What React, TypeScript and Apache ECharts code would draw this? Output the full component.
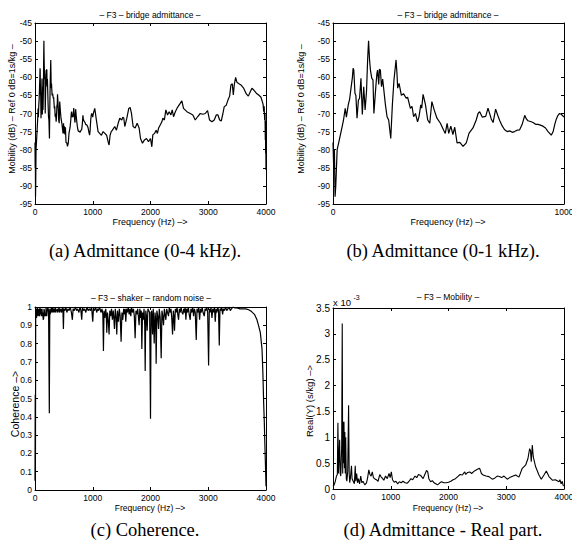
import React, { useEffect, useRef } from "react";
import * as echarts from "echarts";

// Mobility (dB), 0-1000 Hz
const admLow: [number, number][] = [
  [0, -78], [3, -85], [6, -80], [9, -93], [12, -90], [15, -85], [18, -80], [25, -78], [35, -75], [45, -72],
  [53, -68.6], [58, -71], [66, -67.6], [72, -66], [78, -63], [84, -60], [87, -57.5], [90, -58], [95, -64.4],
  [99, -65], [104, -71.3], [110, -66.3], [115, -65.8], [121, -60.3], [127, -70.3], [133, -62.6], [139, -69],
  [145, -64], [150, -55], [154, -49.9], [158, -55], [162, -58], [168, -60.3], [173, -60.7], [177, -70],
  [186, -62.1], [190, -59], [193, -58], [198, -62], [201, -57.8], [205, -58], [210, -62.6], [215, -60.5],
  [227, -67.6], [234, -70.9], [241, -71.8], [250, -76.9], [257, -67.6], [264, -60.7], [270, -57], [273, -55.2],
  [277, -59], [280, -63], [286, -61.7], [290, -63], [296, -65], [305, -64.5], [317, -65.8], [323, -65.5],
  [335, -68.6], [342, -68], [349, -70.9], [357, -70], [366, -72.3], [372, -71], [380, -67.6], [384, -68.5],
  [390, -64.7], [400, -67.5], [410, -71.8], [419, -72.7], [428, -66.7], [438, -69], [450, -71.3], [465, -72.7],
  [479, -74.6], [486, -75.5], [494, -72.7], [501, -75.5], [510, -73.5], [519, -75.8], [527, -73.8], [537, -78.1],
  [549, -78], [563, -79.1], [577, -78.1], [589, -75.4], [606, -74], [620, -71.8], [628, -70], [635, -69.5],
  [646, -71], [661, -70.8], [671, -68.5], [685, -71.5], [693, -72.5], [704, -68.8], [713, -70.5], [722, -72],
  [733, -73.5], [743, -74.5], [754, -75], [765, -74.8], [776, -75.2], [786, -75], [797, -74.6], [808, -74.5],
  [819, -73], [830, -70.5], [837, -71.5], [844, -72], [855, -72.2], [866, -72.5], [877, -73], [887, -73],
  [898, -73.2], [909, -73.5], [920, -74], [931, -75], [945, -76], [953, -75], [960, -73], [967, -71.5],
  [974, -70.5], [981, -70], [988, -70.2], [1000, -71],
];

// Mobility (dB), 1000-4000 Hz
const admHigh: [number, number][] = [
  [1010, -70], [1035, -68.6], [1060, -71.5], [1092, -75], [1120, -75.5], [1150, -76], [1180, -75], [1210, -75.5],
  [1240, -76], [1266, -77.8], [1283, -78.7], [1300, -76], [1320, -75], [1341, -74.6], [1381, -73.6], [1410, -74.6],
  [1440, -72.7], [1468, -71.3], [1503, -71.8], [1520, -71], [1538, -71.3], [1555, -73.6], [1590, -71.3],
  [1624, -68.6], [1647, -68.3], [1670, -69.9], [1699, -73.6], [1734, -74], [1769, -72.7], [1803, -74],
  [1827, -76.9], [1861, -78.2], [1896, -77.3], [1931, -76.9], [1965, -77.8], [2000, -76.9], [2023, -79.2],
  [2040, -75.9], [2070, -75.5], [2098, -74.6], [2120, -75.5], [2139, -74.1], [2168, -73.2], [2197, -72.3],
  [2214, -71.3], [2240, -71.8], [2266, -69], [2295, -70.4], [2324, -69.5], [2353, -70.4], [2376, -69],
  [2399, -70.9], [2428, -69.6], [2468, -68.3], [2514, -67.2], [2543, -66.5], [2572, -68.6], [2630, -69.5],
  [2688, -70], [2734, -70.4], [2775, -71.8], [2815, -70.9], [2861, -70], [2908, -70.2], [2948, -70],
  [2988, -69.2], [3023, -71.8], [3064, -72.3], [3104, -71.8], [3139, -70.4], [3168, -70.4], [3197, -71.8],
  [3225, -72.1], [3254, -70], [3277, -68.1], [3312, -67.7], [3341, -66.3], [3370, -65.2], [3393, -62.1],
  [3416, -61.8], [3434, -64.9], [3451, -62], [3474, -60], [3497, -61.4], [3526, -61.7], [3566, -62.1],
  [3613, -63], [3659, -64.6], [3694, -65.2], [3728, -64], [3757, -63], [3786, -63.5], [3832, -64.4],
  [3873, -64.9], [3913, -65.5], [3936, -66.7], [3950, -67.5], [3960, -69.5], [3968, -68], [3977, -71.8],
  [3983, -70], [3988, -77.3], [3991, -72], [3994, -81], [3997, -78], [4000, -85.6],
];

// Coherence, 0-4000 Hz
const coherence: [number, number][] = [
  [0, 0.05], [4, 0.52], [8, 0.2], [12, 0.95], [20, 0.99], [26, 0.94], [30, 0.96], [40, 1], [46, 0.96], [52, 0.95],
  [62, 0.99], [72, 0.97], [78, 0.95], [85, 1], [92, 0.97], [98, 0.96], [104, 0.99], [110, 0.95], [122, 0.99],
  [128, 0.95], [135, 0.97], [142, 0.93], [150, 0.94], [156, 0.99], [162, 0.98], [168, 0.95], [175, 0.96],
  [185, 0.95], [192, 1], [198, 0.97], [204, 0.95], [210, 0.97], [222, 1], [235, 0.98], [248, 0.42], [256, 0.99],
  [262, 0.96], [270, 0.97], [285, 1], [292, 0.97], [300, 0.98], [310, 1], [318, 0.97], [326, 0.99], [335, 0.97],
  [350, 1], [358, 0.97], [368, 0.98], [385, 0.99], [392, 0.97], [400, 0.975], [418, 1], [426, 0.97], [435, 0.98],
  [450, 0.99], [458, 0.97], [468, 0.97], [482, 1], [492, 0.88], [500, 0.99], [518, 0.98], [535, 1], [552, 0.97],
  [570, 0.99], [590, 0.98], [610, 1], [630, 0.97], [647, 0.93], [660, 0.99], [680, 0.98], [700, 1], [720, 0.98],
  [740, 0.99], [760, 0.97], [780, 1], [795, 0.98], [809, 0.93], [822, 1], [840, 0.98], [860, 0.99], [880, 0.97],
  [900, 1], [920, 0.98], [940, 0.99], [960, 0.98], [980, 1], [1000, 0.92], [1012, 0.99], [1030, 0.98], [1050, 1],
  [1068, 0.97], [1085, 0.99], [1100, 0.98], [1120, 1], [1140, 0.97], [1160, 0.99], [1175, 0.96], [1185, 0.76],
  [1195, 0.98], [1210, 0.94], [1225, 0.99], [1235, 0.95], [1243, 0.86], [1255, 0.97], [1268, 0.93], [1283, 0.85],
  [1295, 0.98], [1310, 0.95], [1325, 0.99], [1340, 0.93], [1355, 0.98], [1365, 0.94], [1376, 0.88], [1390, 0.99],
  [1405, 0.94], [1416, 0.85], [1428, 0.98], [1445, 0.92], [1460, 0.99], [1475, 0.95], [1491, 0.81], [1505, 0.97],
  [1520, 0.93], [1535, 0.99], [1550, 0.96], [1560, 0.99], [1572, 0.92], [1585, 0.99], [1600, 0.97], [1615, 1],
  [1630, 0.96], [1645, 0.99], [1659, 0.95], [1672, 1], [1688, 0.97], [1705, 0.99], [1720, 0.95], [1734, 0.83],
  [1748, 0.98], [1762, 0.96], [1778, 0.99], [1790, 0.95], [1803, 0.9], [1815, 0.99], [1830, 0.94], [1840, 0.98],
  [1850, 0.77], [1862, 0.97], [1875, 0.93], [1888, 0.99], [1900, 0.9], [1908, 0.65], [1918, 0.98], [1930, 0.95],
  [1942, 0.87], [1955, 0.99], [1970, 0.98], [1985, 0.97], [2000, 0.39], [2010, 0.97], [2022, 0.98], [2035, 0.85],
  [2048, 0.99], [2064, 0.8], [2078, 0.97], [2090, 0.93], [2098, 0.69], [2110, 0.98], [2125, 0.95], [2139, 0.88],
  [2152, 0.99], [2168, 0.94], [2185, 0.72], [2198, 0.98], [2212, 0.95], [2225, 0.9], [2240, 0.99], [2252, 0.96],
  [2266, 0.93], [2280, 0.99], [2295, 0.97], [2312, 0.95], [2325, 1], [2340, 0.97], [2355, 0.99], [2368, 0.94],
  [2382, 0.85], [2395, 0.98], [2405, 0.95], [2416, 0.87], [2430, 0.99], [2445, 0.97], [2460, 1], [2472, 0.96],
  [2486, 0.93], [2500, 0.99], [2515, 0.97], [2530, 1], [2545, 0.97], [2561, 0.96], [2575, 0.99], [2590, 0.97],
  [2600, 1], [2613, 0.93], [2625, 0.99], [2640, 0.97], [2655, 1], [2670, 0.96], [2688, 0.93], [2700, 0.99],
  [2715, 0.97], [2730, 1], [2746, 0.95], [2760, 0.99], [2775, 0.97], [2792, 0.82], [2805, 0.99], [2820, 0.97],
  [2835, 1], [2850, 0.93], [2865, 0.99], [2880, 0.97], [2895, 1], [2910, 0.97], [2931, 0.95], [2945, 0.99],
  [2960, 0.98], [2975, 1], [2990, 0.97], [3006, 0.68], [3018, 0.99], [3032, 0.97], [3048, 1], [3064, 0.94],
  [3078, 0.99], [3092, 0.97], [3108, 1], [3121, 0.92], [3135, 0.99], [3150, 0.97], [3165, 1], [3178, 0.98],
  [3191, 0.79], [3203, 0.99], [3218, 0.98], [3232, 1], [3249, 0.96], [3262, 0.99], [3280, 0.98], [3300, 1],
  [3320, 0.98], [3340, 0.99], [3360, 1], [3382, 0.98], [3400, 0.99], [3430, 1], [3460, 0.995], [3500, 0.995],
  [3550, 0.99], [3600, 0.99], [3650, 0.99], [3700, 0.985], [3750, 0.975], [3800, 0.96], [3844, 0.93], [3870, 0.9],
  [3902, 0.86], [3931, 0.77], [3945, 0.65], [3960, 0.47], [3970, 0.38], [3977, 0.29], [3985, 0.2], [3992, 0.12],
  [4000, 0.02],
];

// Real part of mobility, in units of 1e-3 s/kg
const realPartE3: [number, number][] = [
  [0, 0.05], [20, 0.08], [40, 0.15], [60, 0.25], [75, 0.28], [85, 1.28], [95, 0.3], [105, 0.3], [115, 0.95],
  [125, 0.3], [135, 0.25], [150, 0.8], [160, 3.2], [168, 0.3], [175, 1.3], [182, 0.5], [190, 1.3], [198, 0.4],
  [205, 1.1], [212, 0.3], [220, 1.0], [230, 0.2], [240, 0.15], [255, 0.35], [270, 1.62], [280, 0.3], [290, 0.12],
  [300, 0.2], [320, 0.45], [330, 0.2], [350, 0.15], [370, 0.1], [385, 0.45], [395, 0.15], [410, 0.3], [425, 0.12],
  [440, 0.2], [460, 0.1], [480, 0.25], [500, 0.12], [520, 0.15], [550, 0.08], [580, 0.12], [600, 0.22], [620, 0.37],
  [640, 0.28], [660, 0.25], [680, 0.33], [700, 0.22], [720, 0.2], [750, 0.18], [780, 0.15], [810, 0.28],
  [830, 0.24], [860, 0.2], [880, 0.17], [910, 0.25], [940, 0.2], [970, 0.3], [990, 0.22], [1010, 0.33],
  [1030, 0.18], [1060, 0.13], [1090, 0.15], [1120, 0.1], [1150, 0.14], [1180, 0.12], [1210, 0.15], [1250, 0.12],
  [1280, 0.11], [1310, 0.14], [1350, 0.2], [1380, 0.18], [1420, 0.25], [1450, 0.22], [1480, 0.28], [1520, 0.26],
  [1560, 0.2], [1590, 0.28], [1620, 0.36], [1640, 0.33], [1660, 0.2], [1690, 0.14], [1720, 0.16], [1750, 0.12],
  [1780, 0.1], [1810, 0.08], [1850, 0.12], [1880, 0.14], [1920, 0.12], [1960, 0.12], [2000, 0.13], [2040, 0.15],
  [2080, 0.18], [2120, 0.2], [2160, 0.24], [2200, 0.28], [2240, 0.27], [2280, 0.33], [2300, 0.28], [2330, 0.32],
  [2370, 0.33], [2400, 0.3], [2450, 0.35], [2500, 0.38], [2540, 0.4], [2570, 0.3], [2600, 0.27], [2650, 0.25],
  [2700, 0.24], [2757, 0.19], [2800, 0.21], [2844, 0.25], [2880, 0.24], [2920, 0.22], [2960, 0.25], [3017, 0.19],
  [3060, 0.22], [3100, 0.24], [3162, 0.27], [3220, 0.23], [3277, 0.4], [3335, 0.46], [3376, 0.59], [3405, 0.78],
  [3420, 0.74], [3433, 0.53], [3451, 0.85], [3468, 0.62], [3509, 0.43], [3566, 0.27], [3607, 0.19], [3653, 0.27],
  [3694, 0.35], [3740, 0.24], [3798, 0.17], [3850, 0.18], [3913, 0.14], [3930, 0.18], [3950, 0.1], [3970, 0.15],
  [3985, 0.07], [4000, 0.06],
];

const captions = [
  "(a) Admittance (0-4 kHz).",
  "(b) Admittance (0-1 kHz).",
  "(c) Coherence.",
  "(d) Admittance - Real part.",
];
const titles = [
  "– F3 – bridge admittance –",
  "– F3 – bridge admittance –",
  "– F3 – shaker – random noise –",
  "– F3 – Mobility –",
];
const yNames = ["Mobility (dB) – Ref 0 dB=1s/kg –", "Mobility (dB) – Ref 0 dB=1s/kg –", "Coherence –>", "Real(Y) (s/kg) –>"];
const xName = "Frequency (Hz) –>";

const FONT = "Liberation Sans";

function axisPair(
  gridIndex: number,
  kind: "x" | "y",
  min: number,
  max: number,
  interval: number,
  fontSize: number
) {
  const base = {
    type: "value",
    gridIndex,
    min,
    max,
    interval,
    splitLine: { show: false },
    axisLine: { show: true, onZero: false, lineStyle: { color: "#000", width: 1 } },
    axisTick: { show: true, inside: true, length: 3, lineStyle: { color: "#000", width: 1 } },
  };
  const main = {
    ...base,
    position: kind === "x" ? "bottom" : "left",
    axisLabel: {
      show: true,
      color: "#000",
      fontSize,
      fontFamily: FONT,
      margin: 3,
      hideOverlap: false,
      showMinLabel: true,
      showMaxLabel: true,
      formatter: (v: number) => String(+(+v).toFixed(6)),
    },
  };
  const mirror = {
    ...base,
    position: kind === "x" ? "top" : "right",
    axisLabel: { show: false },
  };
  return [main, mirror];
}

export default function App() {
  const ref = useRef<HTMLDivElement>(null);
  useEffect(() => {
    if (!ref.current) return;
    const chart = echarts.init(ref.current, null, { renderer: "svg" });

    const grids = [
      { left: 35, top: 23, width: 231, height: 181 },
      { left: 333, top: 23, width: 231, height: 181 },
      { left: 35, top: 307, width: 231, height: 183 },
      { left: 333, top: 308, width: 231, height: 181 },
    ].map((g) => ({ ...g, show: false, containLabel: false, outerBoundsMode: "none" }));

    const xAxis = [
      ...axisPair(0, "x", 0, 4000, 1000, 8.5),
      ...axisPair(1, "x", 0, 1000, 1000, 8.5),
      ...axisPair(2, "x", 0, 4000, 1000, 8.5),
      ...axisPair(3, "x", 0, 4000, 1000, 8.5),
    ];
    const yAxis = [
      ...axisPair(0, "y", -95, -45, 5, 8.5),
      ...axisPair(1, "y", -95, -45, 5, 8.5),
      ...axisPair(2, "y", 0, 1, 0.1, 8.5),
      ...axisPair(3, "y", 0, 3.5, 0.5, 10),
    ];

    const lineSeries = (idx: number, data: [number, number][], width: number) => ({
      type: "line",
      xAxisIndex: idx * 2,
      yAxisIndex: idx * 2,
      data,
      showSymbol: false,
      symbol: "none",
      silent: true,
      clip: true,
      lineStyle: { color: "#000", width },
    });

    const txt = (
      text: string,
      x: number,
      y: number,
      fontSize: number,
      opts: { rotation?: number; align?: string; family?: string } = {}
    ) => ({
      type: "text",
      x,
      y,
      rotation: opts.rotation || 0,
      silent: true,
      style: {
        text,
        fontSize,
        fontFamily: opts.family || FONT,
        fill: "#000",
        textAlign: opts.align || "center",
        textVerticalAlign: "middle",
      },
    });

    const R = Math.PI / 2;
    const graphic = [
      txt(titles[0], 150, 15, 8.5),
      txt(titles[1], 448, 15, 8.5),
      txt(titles[2], 151, 298, 8.5),
      txt(titles[3], 448, 297, 8.5),
      txt(yNames[0], 11.5, 109, 9, { rotation: R }),
      txt(yNames[1], 301, 109, 9, { rotation: R }),
      txt(yNames[2], 15, 404, 10.5, { rotation: R }),
      txt(yNames[3], 309.5, 401, 9.5, { rotation: R }),
      txt(xName, 150, 221.5, 9),
      txt(xName, 448, 221.5, 9),
      txt(xName, 150, 507.5, 8.5),
      txt(xName, 448, 507.5, 8.5),
      txt("x 10", 333, 302, 9.5, { align: "left" }),
      txt("-3", 353.5, 297.5, 7, { align: "left" }),
      txt(captions[0], 145, 251, 18.5, { family: "Liberation Serif" }),
      txt(captions[1], 443, 251, 18.5, { family: "Liberation Serif" }),
      txt(captions[2], 145, 530, 18.5, { family: "Liberation Serif" }),
      txt(captions[3], 443, 530, 18.5, { family: "Liberation Serif" }),
    ];

    chart.setOption({
      animation: false,
      backgroundColor: "#fff",
      textStyle: { fontFamily: FONT },
      grid: grids,
      xAxis,
      yAxis,
      series: [
        lineSeries(0, [...admLow, ...admHigh], 1.2),
        lineSeries(1, admLow, 1.2),
        lineSeries(2, coherence, 1.2),
        lineSeries(3, realPartE3, 1.1),
      ],
      graphic,
    } as any);

    return () => chart.dispose();
  }, []);

  return (
    <div
      ref={ref}
      style={{ position: "absolute", left: 0, top: 0, width: 572, height: 544, background: "#fff" }}
    />
  );
}
